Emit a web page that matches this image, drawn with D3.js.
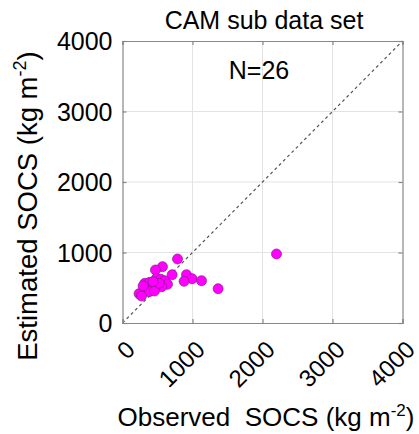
<!DOCTYPE html>
<html>
<head>
<meta charset="utf-8">
<script src="https://cdnjs.cloudflare.com/ajax/libs/d3/7.8.5/d3.min.js"></script>
<style>
  body { margin: 0; background: #fff; }
  text { font-family: Arial, "Liberation Sans", sans-serif; fill: #000; }
</style>
</head>
<body>
<script>
var width = 419, height = 434;

// observed vs estimated SOCS
var observed  = [2200, 786, 571, 709, 914, 994, 1129, 880, 1366, 471, 486, 547, 604,
                 643, 561, 319, 390, 429, 343, 380, 457, 237, 271, 523, 294, 437];
var estimated = [979, 908, 799, 685, 685, 628, 600, 591, 487, 752, 634, 620, 600,
                 549, 515, 563, 577, 515, 468, 444, 454, 416, 383, 563, 525, 586];
var tickValues = [0, 1000, 2000, 3000, 4000];

var plotL = 122.5, plotR = 402.5, plotT = 41, plotB = 323;

var x = d3.scaleLinear().domain([0, 4000]).range([plotL, plotR]);
var y = d3.scaleLinear().domain([0, 4000]).range([plotB, plotT]);

var svg = d3.select("body").append("svg")
    .attr("width", width)
    .attr("height", height);

// grid
svg.append("g")
    .selectAll("line")
    .data(tickValues.slice(1, -1))
    .enter().append("line")
    .attr("x1", d => x(d)).attr("x2", d => x(d))
    .attr("y1", plotT).attr("y2", plotB)
    .attr("stroke", "#e3e3e3").attr("stroke-width", 1);
svg.append("g")
    .selectAll("line")
    .data(tickValues.slice(1, -1))
    .enter().append("line")
    .attr("x1", plotL).attr("x2", plotR)
    .attr("y1", d => y(d)).attr("y2", d => y(d))
    .attr("stroke", "#e3e3e3").attr("stroke-width", 1);

// 1:1 line
svg.append("line")
    .attr("x1", x(0)).attr("y1", y(0))
    .attr("x2", x(4000)).attr("y2", y(4000))
    .attr("stroke", "#555").attr("stroke-width", 1.2)
    .attr("stroke-dasharray", "3,3");

// axes (ticks inside, matlab style)
svg.append("g")
    .attr("transform", "translate(0," + plotB + ")")
    .call(d3.axisTop(x).tickValues(tickValues).tickSize(4).tickFormat(""));
svg.append("g")
    .attr("transform", "translate(" + plotL + ",0)")
    .call(d3.axisRight(y).tickValues(tickValues).tickSize(4).tickFormat(""));
svg.append("g")
    .attr("transform", "translate(0," + plotT + ")")
    .call(d3.axisBottom(x).tickValues(tickValues).tickSize(4).tickFormat(""));
svg.append("g")
    .attr("transform", "translate(" + plotR + ",0)")
    .call(d3.axisLeft(y).tickValues(tickValues).tickSize(4).tickFormat(""));
svg.selectAll(".domain, .tick line").attr("stroke", "#888").attr("stroke-width", 1.2);

// tick labels
svg.append("g")
    .selectAll("text")
    .data(tickValues)
    .enter().append("text")
    .attr("x", plotL - 10)
    .attr("y", d => y(d) + 9)
    .attr("text-anchor", "end")
    .attr("font-size", 25)
    .text(d => d);
svg.append("g")
    .selectAll("text")
    .data(tickValues)
    .enter().append("text")
    .attr("transform", d => "translate(" + (x(d) + 8) + "," + (plotB + 22) + ") rotate(-45)")
    .attr("text-anchor", "end")
    .attr("dy", "0.35em")
    .attr("font-size", 24)
    .text(d => d);

// points
var pts = observed.map((d, i) => ({ o: d, e: estimated[i] }));
svg.append("g")
    .selectAll("circle")
    .data(pts)
    .enter().append("circle")
    .attr("cx", d => x(d.o))
    .attr("cy", d => y(d.e))
    .attr("r", 5)
    .attr("fill", "#ff00ff")
    .attr("stroke", "#8a1a8a")
    .attr("stroke-width", 0.7);

// labels
svg.append("text")
    .attr("x", 264).attr("y", 29)
    .attr("text-anchor", "middle").attr("font-size", 25)
    .text("CAM sub data set");
svg.append("text")
    .attr("x", 259).attr("y", 79)
    .attr("text-anchor", "middle").attr("font-size", 25)
    .text("N=" + observed.length);

var xl = svg.append("text")
    .attr("x", 266).attr("y", 426)
    .attr("text-anchor", "middle").attr("font-size", 26);
xl.append("tspan").text("Observed\u00a0 SOCS (kg m");
xl.append("tspan").attr("dy", -10).attr("font-size", 17).text("-2");
xl.append("tspan").attr("dy", 10).text(")");

var yl = svg.append("text")
    .attr("transform", "translate(37,206) rotate(-90)")
    .attr("text-anchor", "middle").attr("font-size", 27.5);
yl.append("tspan").text("Estimated SOCS (kg m");
yl.append("tspan").attr("dy", -11).attr("font-size", 18).text("-2");
yl.append("tspan").attr("dy", 11).text(")");
</script>
</body>
</html>
